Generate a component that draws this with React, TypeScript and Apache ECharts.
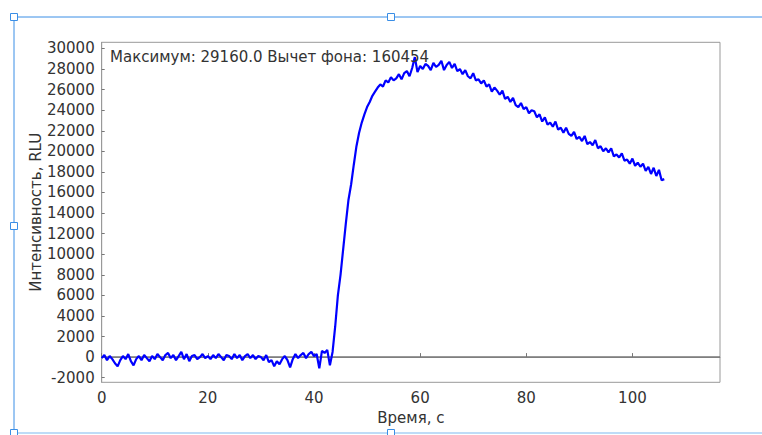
import React, { useEffect, useRef } from "react";
import * as echarts from "echarts";

const baseline: [number, number][] = [
  [0, -100], [0.5, 200], [1, -300], [1.5, 100], [2, -200], [2.5, -600], [3, -900], [3.5, -300],
  [4, 100], [4.5, -200], [5, 300], [5.5, -400], [6, -800], [6.5, -200], [7, 100], [7.5, -300],
  [8, 200], [8.5, -100], [9, -400], [9.5, 100], [10, -200], [10.5, 300], [11, 0], [11.5, -300],
  [12, 200], [12.5, 400], [13, -100], [13.5, 200], [14, -300], [14.5, 100], [15, 500], [15.5, -200],
  [16, 300], [16.5, -400], [17, 100], [17.5, 200], [18, -200], [18.5, 0], [19, 300], [19.5, -100],
  [20, 100], [20.5, -200], [21, 200], [21.5, -100], [22, 300], [22.5, 0], [23, -300], [23.5, 200],
  [24, 100], [24.5, -200], [25, 300], [25.5, -100], [26, 200], [26.5, -300], [27, 100], [27.5, 300],
  [28, -100], [28.5, 200], [29, -200], [29.5, 100], [30, 0], [30.5, -300], [31, 200], [31.5, -500],
  [32, -300], [32.5, -900], [33, -400], [33.5, -700], [34, -200], [34.5, 100], [35, -300], [35.5, -1000],
  [36, -200], [36.5, 300], [37, -100], [37.5, 200], [38, 400], [38.5, -100], [39, 300], [39.5, 500],
  [40, 100], [40.5, 300], [41, -1100], [41.5, 600], [42, 400], [42.5, 700], [43, -800], [43.5, 500],
];

const rise: [number, number][] = [
  [44, 3000], [44.5, 6000], [45, 8000], [45.5, 10500], [46, 13000], [46.5, 15300], [47, 16800],
  [47.5, 18700], [48, 20500], [48.5, 21800], [49, 22800], [49.5, 23600], [50, 24300], [50.5, 24800],
  [51, 25400], [51.5, 25800], [52, 26200], [52.5, 26500], [53, 26300], [53.5, 26900], [54, 26700],
  [54.5, 27200], [55, 26900], [55.5, 27100], [56, 27500], [56.5, 27000], [57, 27600], [57.5, 27800],
  [58, 27300], [58.5, 28100], [59, 29160], [59.5, 27700], [60, 28300], [60.5, 28000], [61, 28500],
  [61.5, 28300], [62, 27900], [62.5, 28600], [63, 28200], [63.5, 28400], [64, 28800], [64.5, 27900],
  [65, 28400], [65.5, 28700], [66, 28100], [66.5, 28500], [67, 27800], [67.5, 28000],
];

const decay: [number, number][] = [
  [68, 27500], [68.5, 27900], [69, 27300], [69.5, 27100], [70, 27600], [70.5, 26900], [71, 27000],
  [71.5, 26600], [72, 26900], [72.5, 26300], [73, 26500], [73.5, 25800], [74, 26200], [74.5, 25900],
  [75, 25500], [75.5, 25900], [76, 25100], [76.5, 25300], [77, 24800], [77.5, 25200], [78, 24500],
  [78.5, 24300], [79, 24700], [79.5, 24100], [80, 24300], [80.5, 23700], [81, 24000], [81.5, 23900],
  [82, 23300], [82.5, 23600], [83, 22900], [83.5, 23300], [84, 22600], [84.5, 22800], [85, 22400],
  [85.5, 22900], [86, 22100], [86.5, 22300], [87, 21800], [87.5, 22300], [88, 21700], [88.5, 21500],
  [89, 21900], [89.5, 21200], [90, 21400], [90.5, 21000], [91, 21500], [91.5, 20700], [92, 20900],
  [92.5, 20600], [93, 21100], [93.5, 20300], [94, 20500], [94.5, 20000], [95, 20300], [95.5, 19900],
  [96, 20300], [96.5, 19500], [97, 19700], [97.5, 19400], [98, 19800], [98.5, 19100], [99, 19200],
  [99.5, 18800], [100, 19300], [100.5, 18600], [101, 18900], [101.5, 18500], [102, 18800], [102.5, 18100],
  [103, 18500], [103.5, 17800], [104, 18400], [104.5, 17600], [105, 18200], [105.5, 17200], [106, 17300],
];

const yTicks = [-2000, 0, 2000, 4000, 6000, 8000, 10000, 12000, 14000, 16000, 18000, 20000, 22000, 24000, 26000, 28000, 30000];
const xTicks = [0, 20, 40, 60, 80, 100];

const annotation = "Максимум: 29160.0 Вычет фона: 160454";
const xName = "Время, с";
const yName = "Интенсивность, RLU";

const FONT = "DejaVu Sans";
const SEL = "#3a8ee6";

export default function App() {
  const ref = useRef<HTMLDivElement>(null);
  useEffect(() => {
    if (!ref.current) return;
    const chart = echarts.init(ref.current, undefined, { renderer: "svg" });
    const data = [...baseline, ...rise, ...decay];
    const handle = (cx: number, cy: number) => ({
      type: "rect",
      shape: { x: cx - 3.5, y: cy - 3.5, width: 7, height: 7 },
      style: { fill: "#ffffff", stroke: SEL, lineWidth: 1 },
      z: 20,
    });
    chart.setOption({
      animation: false,
      backgroundColor: "#ffffff",
      grid: {
        left: 101.7,
        right: 42,
        top: 42.3,
        bottom: 52.7,
        show: true,
        borderColor: "#999999",
        borderWidth: 1,
        backgroundColor: "transparent",
      },
      xAxis: {
        type: "value",
        min: 0,
        max: 116.5,
        name: xName,
        nameLocation: "middle",
        nameGap: 24,
        nameTextStyle: { fontFamily: FONT, fontSize: 15, color: "#333333" },
        axisLine: { show: true, lineStyle: { color: "#999999", width: 1 } },
        axisTick: { show: true, inside: true, length: 4, customValues: xTicks, lineStyle: { color: "#777777" } },
        axisLabel: {
          customValues: xTicks,
          margin: 8,
          fontFamily: FONT,
          fontSize: 15,
          color: "#333333",
          formatter: (v: number) => String(v),
        },
        splitLine: { show: false },
      },
      yAxis: {
        type: "value",
        min: -2450,
        max: 30600,
        name: yName,
        nameLocation: "middle",
        nameGap: 58,
        nameMoveOverlap: false,
        nameRotate: 90,
        nameTextStyle: { fontFamily: FONT, fontSize: 15, color: "#333333" },
        axisLine: { show: true, lineStyle: { color: "#999999", width: 1 } },
        axisTick: { show: true, inside: true, length: 3, customValues: yTicks, lineStyle: { color: "#777777" } },
        axisLabel: {
          customValues: yTicks,
          margin: 7,
          fontFamily: FONT,
          fontSize: 15,
          color: "#333333",
          formatter: (v: number) => String(v),
        },
        splitLine: { show: false },
      },
      series: [
        {
          type: "line",
          data,
          showSymbol: false,
          symbol: "none",
          lineStyle: { color: "#0000ff", width: 2.2 },
          z: 5,
          markLine: {
            silent: true,
            symbol: ["none", "none"],
            label: { show: false },
            lineStyle: { color: "#777777", width: 1.5, type: "solid" },
            data: [{ yAxis: 0 }],
            z: 3,
          },
        },
      ],
      graphic: [
        {
          type: "text",
          left: 110,
          top: 49,
          style: { text: annotation, fontFamily: FONT, fontSize: 15, fill: "#333333" },
          z: 10,
        },
        { type: "line", shape: { x1: 14, y1: 17, x2: 762, y2: 17 }, style: { stroke: SEL, lineWidth: 1 }, z: 19 },
        { type: "line", shape: { x1: 14, y1: 17, x2: 14, y2: 433 }, style: { stroke: SEL, lineWidth: 1 }, z: 19 },
        { type: "line", shape: { x1: 14, y1: 433, x2: 762, y2: 433 }, style: { stroke: "#a8d0f5", lineWidth: 1.5 }, z: 19 },
        handle(14, 17),
        handle(391, 17),
        handle(14, 226),
        handle(14, 433),
        handle(391, 433),
      ],
    });
    return () => chart.dispose();
  }, []);
  return (
    <div
      ref={ref}
      style={{ position: "fixed", left: 0, top: 0, width: 762, height: 435, background: "#fff" }}
    />
  );
}
